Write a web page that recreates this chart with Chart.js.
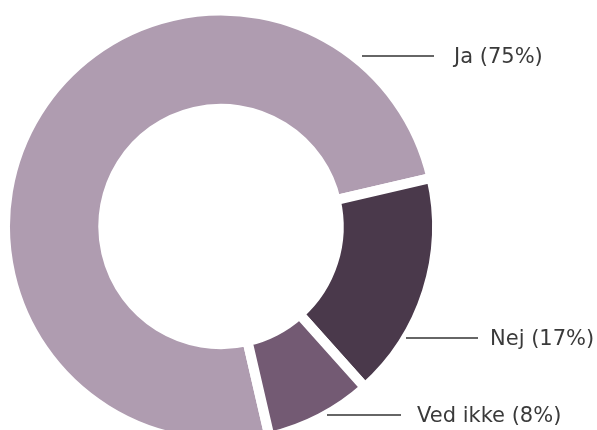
<!DOCTYPE html>
<html>
<head>
<meta charset="utf-8">
<script src="https://cdn.jsdelivr.net/npm/chart.js@4"></script>
<style>
  html, body { margin: 0; padding: 0; background: #fff; overflow: hidden; }
  #wrap { width: 597px; height: 453px; }
</style>
</head>
<body>
<div id="wrap"><canvas id="myChart" width="597" height="453"></canvas></div>
<script>
var labels = ["Ja", "Nej", "Ved ikke"];
var values = [75, 17, 8];
var colors = ["#af9cb0", "#4a394b", "#735a73"];

// leader lines next to the ring: row y, line start/end, text start
var labelY = [56, 338, 415];
var lineX1 = [362, 406, 327];
var lineX2 = [434, 478, 401];
var textX = [454, 490, 417];

var leaderLabels = {
  id: 'leaderLabels',
  afterDraw: function (chart) {
    var ctx = chart.ctx;
    ctx.save();
    ctx.strokeStyle = "#333333";
    ctx.lineWidth = 1.5;
    ctx.fillStyle = "#3a3a3a";
    ctx.font = "21px 'DejaVu Sans', sans-serif";
    ctx.textBaseline = "middle";
    for (var i = 0; i < labels.length; i++) {
      ctx.beginPath();
      ctx.moveTo(lineX1[i], labelY[i]);
      ctx.lineTo(lineX2[i], labelY[i]);
      ctx.stroke();
      ctx.fillText(labels[i] + " (" + values[i] + "%)", textX[i], labelY[i] + 2);
    }
    ctx.restore();
  }
};

var ctx = document.getElementById('myChart').getContext('2d');
var myChart = new Chart(ctx, {
  type: 'doughnut',
  data: {
    labels: labels,
    datasets: [{
      data: values,
      backgroundColor: colors,
      borderColor: "#ffffff",
      borderWidth: 10,
      hoverBorderWidth: 10,
      hoverOffset: 0
    }]
  },
  options: {
    responsive: false,
    animation: false,
    cutout: '54.5%',
    rotation: 167,
    layout: { padding: { right: 155 } },
    plugins: {
      legend: { display: false },
      tooltip: { enabled: false }
    }
  },
  plugins: [leaderLabels]
});
</script>
</body>
</html>
